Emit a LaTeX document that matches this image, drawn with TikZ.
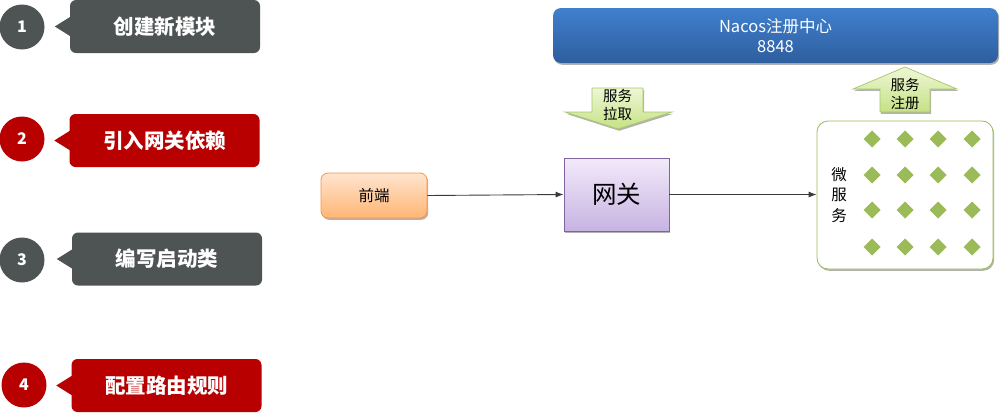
\documentclass[tikz,border=0pt]{standalone}
\usepackage{fontspec}
\setmainfont{Noto Sans CJK SC}
\usetikzlibrary{shadows,arrows.meta}
\definecolor{grayc}{HTML}{4E5354}
\definecolor{redc}{HTML}{B80000}
\definecolor{nacostop}{HTML}{3F80CE}
\definecolor{nacosbot}{HTML}{2E5E9E}
\definecolor{gtop}{HTML}{EEF7D6}
\definecolor{gbot}{HTML}{C6E185}
\definecolor{gline}{HTML}{A6C767}
\definecolor{msgreen}{HTML}{9BBB59}
\definecolor{otop}{HTML}{FFE4CF}
\definecolor{obot}{HTML}{FFB674}
\definecolor{oline}{HTML}{F79646}
\definecolor{ptop}{HTML}{F2EAFA}
\definecolor{pbot}{HTML}{C7B3E2}
\definecolor{pline}{HTML}{8064A2}
\definecolor{conn}{HTML}{3A3A3A}
\begin{document}
\begin{tikzpicture}[x=1pt,y=-1pt,
  stepcirc/.style={circle,minimum size=45pt,inner sep=0pt,text=white,font=\bfseries\fontsize{16}{16}\selectfont},
  stepbox/.style={rectangle,rounded corners=6pt,minimum width=190pt,minimum height=53pt,inner sep=0pt,text=white,font=\bfseries\fontsize{20.5}{20.5}\selectfont},
  shad/.style={drop shadow={shadow xshift=1.2pt,shadow yshift=-1.8pt,opacity=0.3,fill=black}},
  flowbox/.style={rectangle,inner sep=0pt,line width=0.8pt,shad},
  conline/.style={draw=conn,line width=0.9pt,-{Latex[length=8pt,width=6pt]}},
  garrow/.style={top color=gtop,bottom color=gbot,draw=gline,line width=0.7pt,shad},
  gtext/.style={inner sep=0pt,font=\fontsize{14.5}{17.5}\selectfont,align=center}
]
\useasboundingbox (0,0) rectangle (1003,413);

% steps
\foreach \n/\c/\cx/\cy/\bx/\by/\t in {1/grayc/22/27/165/26.5/创建新模块, 2/redc/22/139/164.5/140.5/引入网关依赖, 3/grayc/22/260/167/259/编写启动类, 4/redc/24/385/166.5/385.5/配置路由规则}{
  \node[stepcirc,fill=\c] (c\n) at (\cx,\cy) {\n};
  \node[stepbox,fill=\c] (b\n) at (\bx,\by) {\t};
  \fill[\c] ([yshift=10pt,xshift=1pt]b\n.west) -- ([xshift=-15pt]b\n.west) -- ([yshift=-10pt,xshift=1pt]b\n.west) -- cycle;
}

% Nacos
\node[flowbox,rounded corners=8pt,top color=nacostop,bottom color=nacosbot,draw=none,minimum width=445pt,minimum height=55pt,text=white,align=center,font=\fontsize{16.5}{20}\selectfont] (nacos) at (775.5,35.5) {Nacos注册中心\\8848};

% service pull arrow (down)
\path[garrow] (592,88) -- (643,88) -- (643,112) -- (672,112) -- (618,129) -- (565,112) -- (592,112) -- cycle;
\node[gtext] (pull) at (617.5,105) {服务\\拉取};

% service register arrow (up)
\path[garrow] (880,112) -- (930,112) -- (930,89) -- (957,89) -- (905,67) -- (853,89) -- (880,89) -- cycle;
\node[gtext] (reg) at (905,94) {服务\\注册};

% frontend
\node[flowbox,rounded corners=7pt,top color=otop,bottom color=obot,draw=oline,minimum width=106pt,minimum height=45pt,font=\fontsize{15.5}{15.5}\selectfont] (fe) at (374,195.5) {前端};

% gateway
\node[flowbox,top color=ptop,bottom color=pbot,draw=pline,minimum width=105pt,minimum height=73pt,font=\fontsize{24.5}{24.5}\selectfont] (gw) at (616.5,194.5) {网关};

% microservices
\node[flowbox,rounded corners=11pt,fill=white,draw=msgreen,minimum width=176pt,minimum height=148pt] (ms) at (905,195) {};
\node[inner sep=0pt,align=center,font=\fontsize{15.5}{20.5}\selectfont] (mstext) at (839,195) {微\\服\\务};
\foreach \x in {872,905,938,972}{
  \foreach \y in {139,175,210,247}{
    \fill[msgreen] (\x,\y) +(-8.5,0) -- +(0,-8.5) -- +(8.5,0) -- +(0,8.5) -- cycle;
  }
}

% connectors
\draw[conline] (fe.east) -- (gw.west);
\draw[conline] (gw.east) -- (gw.east -| ms.west);
\end{tikzpicture}
\end{document}
